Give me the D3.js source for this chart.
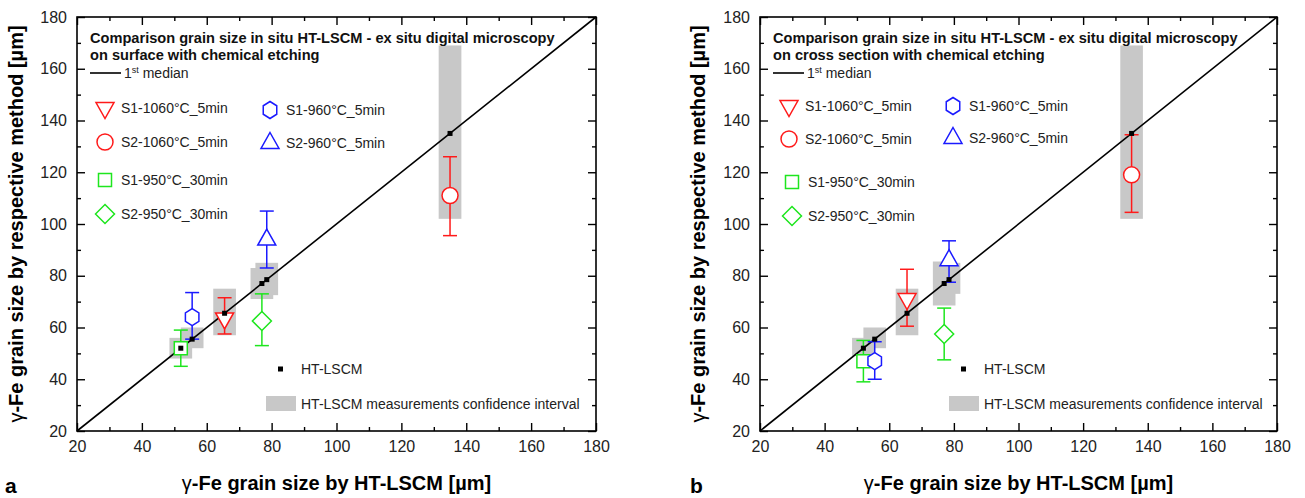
<!DOCTYPE html>
<meta charset="utf-8">

<script src="https://d3js.org/d3.v7.min.js"></script>

<style type="text/css">

body {
  margin: 0;
  background: white;
}

text {
  font-family: "Liberation Sans", Arial, sans-serif;
}

.tickLabel text {
  font-size: 16px;
  fill: #222;
}

.axis path {
  display: none;
}

.axis line {
  stroke: black;
  stroke-width: 1.4px;
}

.frame {
  fill: none;
  stroke: black;
  stroke-width: 1.6px;
}

.axisTitle {
  font-size: 20px;
  font-weight: bold;
}

.gamma {
  font-weight: normal;
}

.panelLetter {
  font-size: 21px;
  font-weight: bold;
}

.legendTitle {
  font-size: 14.6px;
  font-weight: bold;
  fill: #111;
}

.legendText {
  font-size: 14px;
  fill: #222;
}

.ciRect {
  fill: #c8c8c8;
}

.median {
  stroke: black;
  stroke-width: 1.6px;
}

</style>

<body>
</body>

<script>

  // ---------------------------//
  //         DATA               //
  // ---------------------------//

  // HT-LSCM grain size (x = y, on the median line)
  const htValues = [52, 55.5, 65.5, 77, 78.5, 135]

  // HT-LSCM confidence intervals (grey boxes)
  const ciLowA  = [48, 52, 57, 71, 72.5, 102]
  const ciHighA = [56, 60, 75, 83, 85, 169]
  const ciLowB  = [49, 52, 57, 68.5, 73, 102]
  const ciHighB = [56, 60, 75, 85.5, 85, 169]
  const ciHalfWidth = 3.5

  // samples measured by digital microscopy
  const seriesNames = ["S1-1060°C_5min", "S2-1060°C_5min", "S1-950°C_30min",
                       "S2-950°C_30min", "S1-960°C_5min", "S2-960°C_5min"]
  const seriesHT = [65.5, 135, 52, 77, 55.5, 78.5]

  // a) surface with chemical etching
  const meanA = [63.5, 111, 52, 62.5, 64, 94]
  const lowA  = [57.5, 95.5, 45, 53, 55.5, 83]
  const highA = [71.5, 126, 59, 73, 73.5, 105]

  // b) cross section with chemical etching
  const meanB = [71, 119, 47, 57.5, 47, 86]
  const lowB  = [60.5, 104.5, 39, 47.5, 40, 77.5]
  const highB = [82.5, 134.5, 55, 67.5, 54.5, 93.5]

  const axisTicks = [20, 40, 60, 80, 100, 120, 140, 160, 180]
  const minorTicks = [30, 50, 70, 90, 110, 130, 150, 170]

  // ---------------------------//
  //         LAYOUT             //
  // ---------------------------//

  const outerWidth = 1305
  const outerHeight = 498
  const plotTop = 17
  const plotBottom = 431
  const majorTick = 8
  const minorTick = 4

  const seriesColors = ["#ff1a1a", "#ff1a1a", "#1ee61e", "#1ee61e", "#1a1aff", "#1a1aff"]
  const seriesShapes = ["triDown", "circle", "square", "diamond", "hexagon", "triUp"]

  const SVG = d3.select("body").append("svg")
    .attr("width", outerWidth)
    .attr("height", outerHeight)

  let yScale = d3.scaleLinear()
                  .domain([20, 180])
                  .range([plotBottom, plotTop])

  // marker outlines centred on 0,0
  function markerPath(shape) {
    if (shape == "circle") return d3.arc()({innerRadius: 0, outerRadius: 8, startAngle: 0, endAngle: 2 * Math.PI})
    if (shape == "square") return "M-6.5,-6.5H6.5V6.5H-6.5Z"
    if (shape == "diamond") return "M0,-9.5L9.5,0L0,9.5L-9.5,0Z"
    if (shape == "triDown") return "M-9,-5.5L9,-5.5L0,10.5Z"
    if (shape == "triUp") return "M0,-10.5L9,5.5L-9,5.5Z"
    if (shape == "hexagon") {
      let pts = d3.range(6).map(i => {
        let a = (i * 60 - 90) * Math.PI / 180
        return [7.8 * Math.cos(a), 8.5 * Math.sin(a)]
      })
      return "M" + pts.join("L") + "Z"
    }
  }

  // ---------------------------//
  //         PANELS             //
  // ---------------------------//

  const panels = [
    {letter: "a", left: 77, right: 596, letterX: 5, yTitleX: 16,
     subtitle: "on surface with chemical etching",
     mean: meanA, low: lowA, high: highA, ciLow: ciLowA, ciHigh: ciHighA,
     legendY: [108, 142, 180, 214, 110, 143], legendShift: [0, 0, 0, 0, 0, 0]},
    {letter: "b", left: 760, right: 1277, letterX: 690, yTitleX: 698,
     subtitle: "on cross section with chemical etching",
     mean: meanB, low: lowB, high: highB, ciLow: ciLowB, ciHigh: ciHighB,
     legendY: [106, 139, 182, 216, 106, 138], legendShift: [1, 1, 4, 4, 0, 0]}
  ]

  panels.forEach(function(p) {

    let xScale = d3.scaleLinear()
                    .domain([20, 180])
                    .range([p.left, p.right])

    const g = SVG.append("g")

    // CONFIDENCE BOXES
    g.selectAll(".ciRect")
      .data(htValues)
      .enter().append("rect")
      .classed("ciRect", true)
      .attr("x", d => xScale(d - ciHalfWidth))
      .attr("width", d => xScale(d + ciHalfWidth) - xScale(d - ciHalfWidth))
      .attr("y", (d, i) => yScale(p.ciHigh[i]))
      .attr("height", (d, i) => yScale(p.ciLow[i]) - yScale(p.ciHigh[i]))

    // MEDIAN LINE
    g.append("line")
      .classed("median", true)
      .attr("x1", xScale(20))
      .attr("y1", yScale(20))
      .attr("x2", xScale(180))
      .attr("y2", yScale(180))

    // AXES (ticks pointing inwards on all four sides)
    const axes = [
      [d3.axisBottom(xScale), "translate(0," + plotBottom + ")", true],
      [d3.axisTop(xScale), "translate(0," + plotTop + ")", false],
      [d3.axisLeft(yScale), "translate(" + p.left + ",0)", true],
      [d3.axisRight(yScale), "translate(" + p.right + ",0)", false]
    ]
    axes.forEach(function(a) {
      g.append("g")
        .attr("class", "axis" + (a[2] ? " tickLabel" : ""))
        .attr("transform", a[1])
        .call(a[0].tickValues(axisTicks).tickSize(-majorTick).tickPadding(a[2] ? 10 : 0)
                  .tickFormat(a[2] ? d3.format("d") : ""))
      g.append("g")
        .attr("class", "axis")
        .attr("transform", a[1])
        .call(a[0].tickValues(minorTicks).tickSize(-minorTick).tickFormat(""))
    })

    g.append("rect")
      .classed("frame", true)
      .attr("x", p.left)
      .attr("y", plotTop)
      .attr("width", p.right - p.left)
      .attr("height", plotBottom - plotTop)

    // ERROR BARS
    const bars = g.selectAll(".errBar")
      .data(seriesHT)
      .enter().append("g")
      .style("stroke", (d, i) => seriesColors[i])
      .style("stroke-width", 1.5)
    bars.append("line")
      .attr("x1", d => xScale(d)).attr("x2", d => xScale(d))
      .attr("y1", (d, i) => yScale(p.low[i]))
      .attr("y2", (d, i) => yScale(p.high[i]))
    bars.append("line")
      .attr("x1", d => xScale(d) - 7).attr("x2", d => xScale(d) + 7)
      .attr("y1", (d, i) => yScale(p.low[i]))
      .attr("y2", (d, i) => yScale(p.low[i]))
    bars.append("line")
      .attr("x1", d => xScale(d) - 7).attr("x2", d => xScale(d) + 7)
      .attr("y1", (d, i) => yScale(p.high[i]))
      .attr("y2", (d, i) => yScale(p.high[i]))

    // MARKERS
    g.selectAll(".marker")
      .data(seriesHT)
      .enter().append("path")
      .attr("d", (d, i) => markerPath(seriesShapes[i]))
      .attr("transform", (d, i) => "translate(" + xScale(d) + "," + yScale(p.mean[i]) + ")")
      .style("fill", "white")
      .style("stroke", (d, i) => seriesColors[i])
      .style("stroke-width", 1.5)

    // HT-LSCM POINTS
    g.selectAll(".htPoint")
      .data(htValues)
      .enter().append("rect")
      .attr("x", d => xScale(d) - 2.5)
      .attr("y", d => yScale(d) - 2.5)
      .attr("width", 5)
      .attr("height", 5)
      .style("fill", "black")

    // ---------------------------//
    //         LEGEND             //
    // ---------------------------//

    g.append("text")
      .classed("legendTitle", true)
      .attr("x", p.left + 13)
      .attr("y", 43)
      .text("Comparison grain size in situ HT-LSCM - ex situ digital microscopy")

    g.append("text")
      .classed("legendTitle", true)
      .attr("x", p.left + 13)
      .attr("y", 60)
      .text(p.subtitle)

    g.append("line")
      .classed("median", true)
      .attr("x1", p.left + 13)
      .attr("x2", p.left + 44)
      .attr("y1", 73)
      .attr("y2", 73)

    const med = g.append("text")
      .classed("legendText", true)
      .attr("x", p.left + 47)
      .attr("y", 78)
    med.append("tspan").text("1")
    med.append("tspan").attr("dy", -5).style("font-size", "9px").text("st")
    med.append("tspan").attr("dy", 5).text(" median")

    seriesNames.forEach(function(name, i) {
      let mx = (i < 4 ? p.left + 28 : p.left + 193) + p.legendShift[i]
      let my = p.legendY[i]
      g.append("path")
        .attr("d", markerPath(seriesShapes[i]))
        .attr("transform", "translate(" + mx + "," + my + ")")
        .style("fill", "none")
        .style("stroke", seriesColors[i])
        .style("stroke-width", 1.5)
      g.append("text")
        .classed("legendText", true)
        .attr("x", mx + 16)
        .attr("y", my)
        .attr("dy", "0.35em")
        .text(name)
    })

    g.append("rect")
      .attr("x", p.left + 201)
      .attr("y", 366.5)
      .attr("width", 5)
      .attr("height", 5)
      .style("fill", "black")
    g.append("text")
      .classed("legendText", true)
      .attr("x", p.left + 224)
      .attr("y", 369)
      .attr("dy", "0.35em")
      .text("HT-LSCM")

    g.append("rect")
      .classed("ciRect", true)
      .attr("x", p.left + 189)
      .attr("y", 396)
      .attr("width", 30)
      .attr("height", 15)
    g.append("text")
      .classed("legendText", true)
      .attr("x", p.left + 224)
      .attr("y", 404)
      .attr("dy", "0.35em")
      .text("HT-LSCM measurements confidence interval")

    // ---------------------------//
    //         TITLES             //
    // ---------------------------//

    const xTitle = g.append("text")
      .classed("axisTitle", true)
      .attr("x", (p.left + p.right) / 2)
      .attr("y", 490)
      .attr("text-anchor", "middle")
    xTitle.append("tspan").classed("gamma", true).text("γ")
    xTitle.append("tspan").text("-Fe grain size by HT-LSCM [µm]")

    const yTitle = g.append("text")
      .classed("axisTitle", true)
      .attr("transform", "translate(" + p.yTitleX + "," + (plotTop + plotBottom) / 2 + ") rotate(-90)")
      .attr("dy", "0.35em")
      .attr("text-anchor", "middle")
    yTitle.append("tspan").classed("gamma", true).text("γ")
    yTitle.append("tspan").text("-Fe grain size by respective method [µm]")

    g.append("text")
      .classed("panelLetter", true)
      .attr("x", p.letterX)
      .attr("y", 493)
      .text(p.letter)
  })

</script>
